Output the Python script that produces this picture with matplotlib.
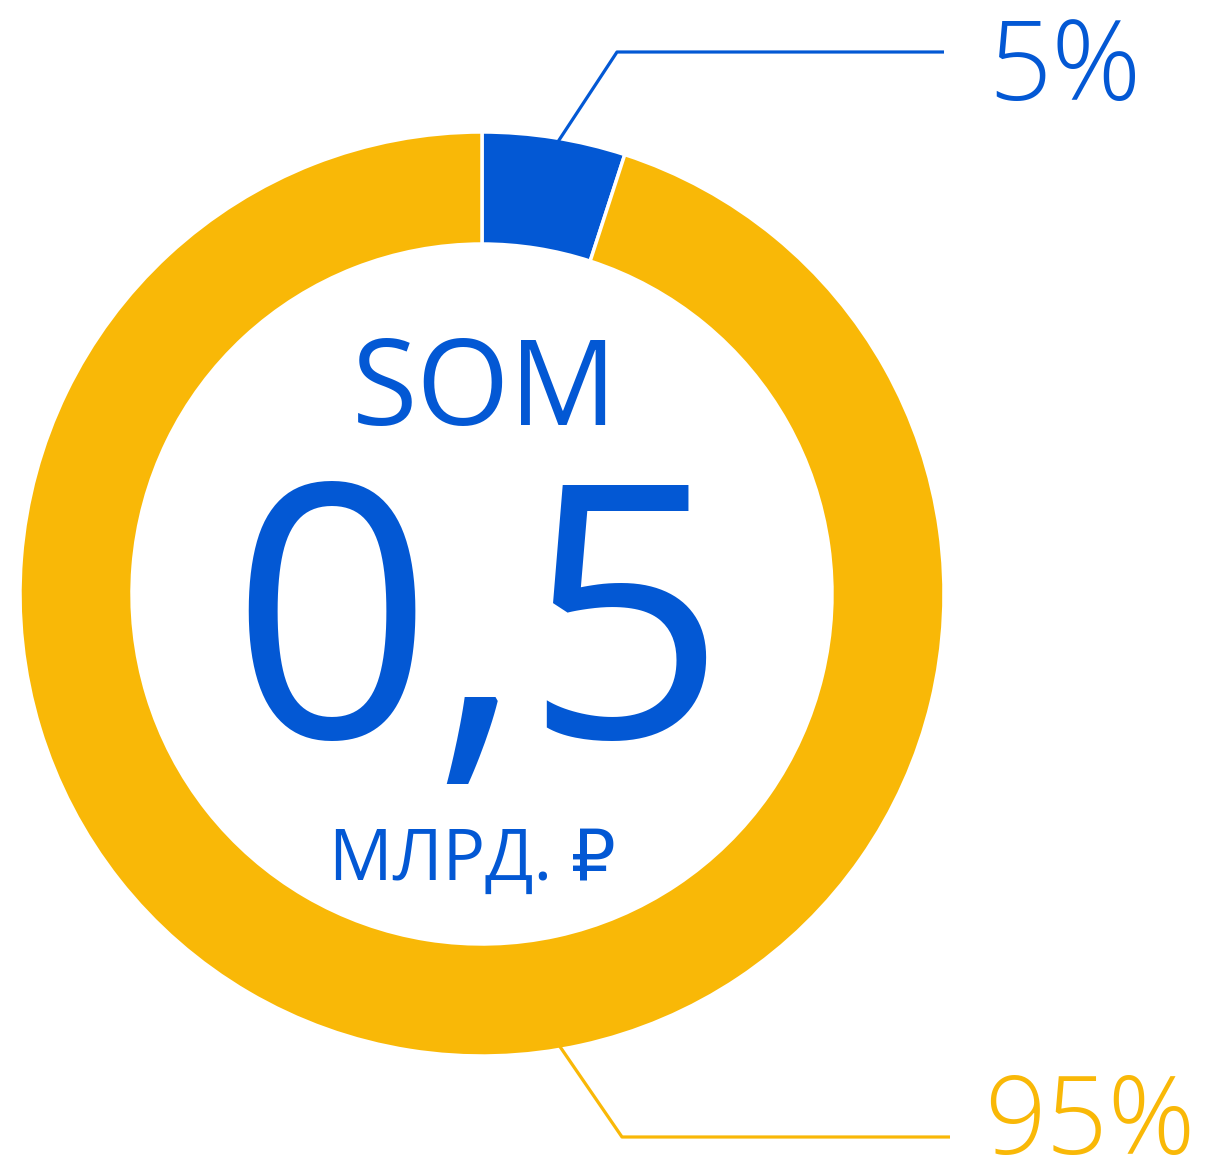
import numpy as np
import matplotlib.pyplot as plt

# data
labels = ['5%', '95%']
shares = [5, 95]
colors = ['#0358D4', '#F9B807']
title_top = 'SOM'
value_text = '0,5'
unit_text = 'МЛРД. ₽'

W, H = 1214, 1162
fig = plt.figure(figsize=(W / 100, H / 100), dpi=100)
ax = fig.add_axes([0, 0, 1, 1])

cx, cy = 482, H - 594
r_out = 462
ring = 112

ax.pie(shares, colors=colors, startangle=90, counterclock=False,
       center=(cx, cy), radius=r_out, frame=True,
       wedgeprops=dict(width=ring, edgecolor='white', linewidth=2.5))
ax.set_xlim(0, W)
ax.set_ylim(0, H)
ax.set_aspect('equal')
ax.axis('off')

fam = ['Open Sans', 'DejaVu Sans']

# leader lines (angle measured clockwise from top)
def edge_point(deg, r):
    a = np.deg2rad(deg)
    return cx + r * np.sin(a), cy + r * np.cos(a)

x0, y0 = edge_point(9.5, r_out - 4)
ax.plot([x0, 617, 944], [y0, H - 52, H - 52], color=colors[0], lw=2.3,
        solid_capstyle='butt')
ax.text(988, H - 100, labels[0], color=colors[0], fontsize=80,
        family=fam, fontweight='light', ha='left', va='baseline')

x1, y1 = edge_point(170.3, r_out - 4)
ax.plot([x1, 622, 950], [y1, H - 1137, H - 1137], color=colors[1], lw=2.3,
        solid_capstyle='butt')
ax.text(984, H - 1154, labels[1], color=colors[1], fontsize=78,
        family=fam, fontweight='light', ha='left', va='baseline')

# center texts
ax.text(485, H - 425, title_top, color=colors[0], fontsize=86,
        family=fam, ha='center', va='baseline')
ax.text(478, H - 738, value_text, color=colors[0], fontsize=255,
        family=fam, ha='center', va='baseline')
ax.text(472, H - 880, unit_text, color=colors[0], fontsize=51,
        family=fam, ha='center', va='baseline')

fig.savefig('out.png', dpi=100)
